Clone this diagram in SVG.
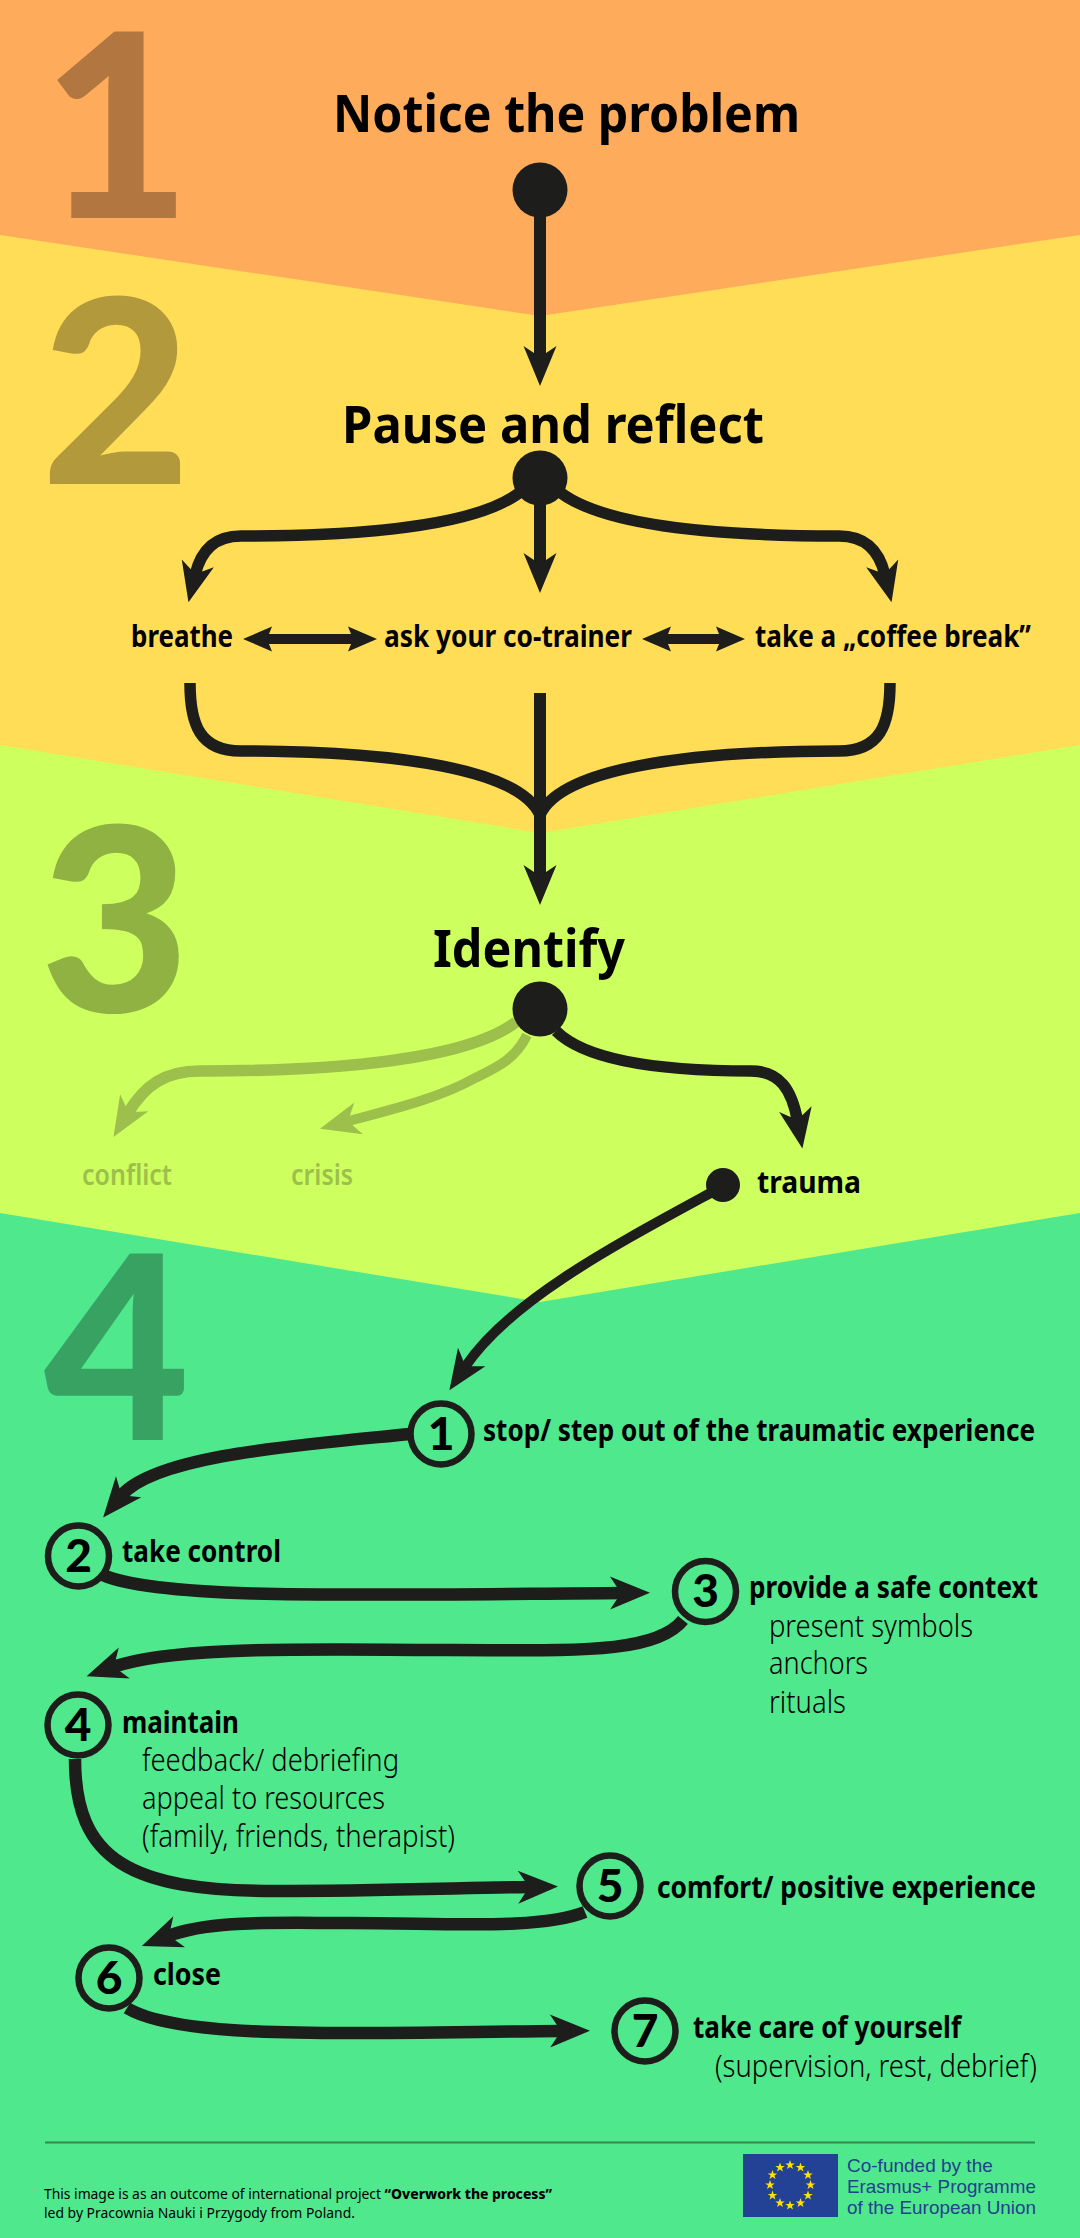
<svg xmlns="http://www.w3.org/2000/svg" xmlns:xlink="http://www.w3.org/1999/xlink" width="1080" height="2238" viewBox="0 0 1080 2238">
<defs>
<style>
text{font-family:"Noto Sans","Open Sans",sans-serif;fill:#000;font-variant-ligatures:none}
.big{font-family:"Lato","Noto Sans",sans-serif;font-weight:900;font-size:257px;fill-opacity:.3}
.h{font-weight:700;font-size:52px}
.m{font-weight:700;font-size:31px}
.g{font-weight:600;font-size:29px;fill:#9dbf4c}
.l{font-weight:300;font-size:32px}
.n{font-family:"Lato","Noto Sans",sans-serif;font-weight:900;font-size:46px;text-anchor:middle}
.f{font-weight:400;font-size:14.500px}
.fb{font-weight:800}
.eu{font-family:"Liberation Sans",Arial,sans-serif;font-size:19px;fill:#25408f}
.c{fill:none;stroke:#1d1d1b;stroke-width:11.500}
.t{stroke-width:12}
.w{stroke-width:12.500}
.gc{fill:none;stroke:#9dbf4c;stroke-width:11.500}
.a{marker-end:url(#ah)}
.ga{marker-end:url(#gh)}
.dbl{stroke-width:10;marker-start:url(#dh);marker-end:url(#dh)}
.d{fill:#1d1d1b}
.o{fill:none;stroke:#1d1d1b;stroke-width:6.500}
</style>
<marker id="ah" markerUnits="userSpaceOnUse" markerWidth="50" markerHeight="50" refX="12" refY="25" orient="auto" overflow="visible"><path d="M40,25 0,8.500 11,25 0,41.500Z" fill="#1d1d1b"/></marker>
<marker id="gh" markerUnits="userSpaceOnUse" markerWidth="50" markerHeight="50" refX="12" refY="25" orient="auto" overflow="visible"><path d="M40,25 0,8.500 11,25 0,41.500Z" fill="#9dbf4c"/></marker>
<marker id="dh" markerUnits="userSpaceOnUse" markerWidth="40" markerHeight="40" refX="20" refY="20" orient="auto-start-reverse" overflow="visible"><path d="M34,20 5,7.500 10,20 5,32.500Z" fill="#1d1d1b"/></marker>
<polygon id="s" points="0,-5 1.200,-1.600 4.800,-1.600 1.900,0.600 3,4 0,2 -3,4 -1.900,0.600 -4.800,-1.600 -1.200,-1.600" fill="#ffe000"/>
</defs>
<g id="bands">
<rect width="1080" height="2238" fill="#50e88d"/>
<path d="M0,0H1080V1213L540,1302 0,1213Z" fill="#cdff5f"/>
<path d="M0,0H1080V745L540,833 0,745Z" fill="#ffdd57"/>
<path d="M0,0H1080V235L540,316 0,235Z" fill="#ffab5c"/>
</g>
<g id="numerals">
<text class="big" x="42" y="218" textLength="149" lengthAdjust="spacingAndGlyphs">1</text>
<text class="big" x="41" y="484" textLength="150" lengthAdjust="spacingAndGlyphs">2</text>
<text class="big" x="40" y="1012" textLength="150" lengthAdjust="spacingAndGlyphs">3</text>
<text class="big" x="44" y="1440" textLength="146" lengthAdjust="spacingAndGlyphs">4</text>
</g>
<g id="connectors">
<path class="c t a" d="M540,190V358"/>
<path class="c t a" d="M540,478V565"/>
<path class="c a" d="M525,488C480,530 340,536 241,536C215,536 201,550 195,575"/>
<path class="c a" d="M555,488C600,530 740,536 839,536C865,536 879,550 885,575"/>
<path class="c dbl" d="M257,639H363"/>
<path class="c dbl" d="M656,639H731"/>
<path class="c" d="M190,683C190,725 200,751 241,751C400,751 520,770 540,815"/>
<path class="c" d="M890,683C890,725 880,751 839,751C680,751 560,770 540,815"/>
<path class="c t a" d="M540,693V877"/>
<path class="gc ga" d="M516,1022C460,1065 300,1071 200,1071C165,1071 145,1085 128,1113"/>
<path class="gc ga" style="stroke-width:10" d="M527,1035C515,1060 495,1068 475,1078C440,1098 390,1110 347,1121.500"/>
<path class="c a" d="M556,1031C590,1065 680,1071 751,1071C780,1071 792,1090 797.500,1121"/>
<path class="c a" style="stroke-width:10" d="M716,1190C615,1245 510,1300 465,1367"/>
<path class="c w a" d="M410,1434C300,1445 155,1455 121,1496"/>
<path class="c w a" d="M103,1575C160,1600 350,1595 622,1593"/>
<path class="c w a" d="M683,1620C655,1655 570,1650 450,1650C320,1650 175,1645 113,1667"/>
<path class="c w a" d="M75,1759C75,1860 130,1891 275,1891C370,1891 460,1888 530,1887"/>
<path class="c w a" d="M585,1912C540,1930 450,1923 350,1923C270,1923 210,1920 168,1936"/>
<path class="c w a" d="M127,2008C180,2040 340,2033 562,2031"/>
</g>
<g id="node-notice"><text class="h" transform="translate(333,132) scale(.85,1)" textLength="549.400" lengthAdjust="spacingAndGlyphs">Notice the problem</text><circle class="d" cx="540" cy="190" r="27.500"/></g>
<g id="node-pause"><text class="h" transform="translate(342,443) scale(.85,1)" textLength="496.500" lengthAdjust="spacingAndGlyphs">Pause and reflect</text><circle class="d" cx="540" cy="478" r="27.500"/></g>
<g id="node-breathe"><text class="m" transform="translate(131,647) scale(.85,1)" textLength="120" lengthAdjust="spacingAndGlyphs">breathe</text></g>
<g id="node-cotrainer"><text class="m" transform="translate(384,647) scale(.85,1)" textLength="291.800" lengthAdjust="spacingAndGlyphs">ask your co-trainer</text></g>
<g id="node-coffee"><text class="m" transform="translate(755,647) scale(.85,1)" textLength="324.700" lengthAdjust="spacingAndGlyphs">take a „coffee break”</text></g>
<g id="node-identify"><text class="h" transform="translate(433,967) scale(.85,1)" textLength="225.900" lengthAdjust="spacingAndGlyphs">Identify</text><circle class="d" cx="540" cy="1009" r="27.500"/></g>
<g id="node-conflict"><text class="g" transform="translate(82,1185) scale(.9,1)" textLength="100" lengthAdjust="spacingAndGlyphs">conflict</text></g>
<g id="node-crisis"><text class="g" transform="translate(291,1185) scale(.9,1)" textLength="68.900" lengthAdjust="spacingAndGlyphs">crisis</text></g>
<g id="node-trauma"><circle class="d" cx="723" cy="1185" r="17"/><text class="m" transform="translate(757,1192.500) scale(.85,1)" textLength="122.400" lengthAdjust="spacingAndGlyphs">trauma</text></g>
<g id="node-step1"><circle class="o" cx="441" cy="1434" r="30.500"/><text class="n" x="441" y="1450">1</text><text class="m" transform="translate(483,1441) scale(.85,1)" textLength="649.400" lengthAdjust="spacingAndGlyphs">stop/ step out of the traumatic experience</text></g>
<g id="node-step2"><circle class="o" cx="78.500" cy="1556" r="30.500"/><text class="n" x="78.500" y="1572">2</text><text class="m" transform="translate(122,1562) scale(.85,1)" textLength="187" lengthAdjust="spacingAndGlyphs">take control</text></g>
<g id="node-step3"><circle class="o" cx="705.500" cy="1591.500" r="30.500"/><text class="n" x="705.500" y="1607">3</text><text class="m" transform="translate(749,1598) scale(.85,1)" textLength="340" lengthAdjust="spacingAndGlyphs">provide a safe context</text><text class="l" transform="translate(769,1637) scale(.85,1)" textLength="240" lengthAdjust="spacingAndGlyphs">present symbols</text><text class="l" transform="translate(769,1674) scale(.85,1)" textLength="116.500" lengthAdjust="spacingAndGlyphs">anchors</text><text class="l" transform="translate(769,1713) scale(.85,1)" textLength="90.600" lengthAdjust="spacingAndGlyphs">rituals</text></g>
<g id="node-step4"><circle class="o" cx="78" cy="1725" r="30.500"/><text class="n" x="78" y="1741">4</text><text class="m" transform="translate(122,1732.500) scale(.85,1)" textLength="137.600" lengthAdjust="spacingAndGlyphs">maintain</text><text class="l" transform="translate(142,1771) scale(.85,1)" textLength="302.400" lengthAdjust="spacingAndGlyphs">feedback/ debriefing</text><text class="l" transform="translate(142,1808.500) scale(.85,1)" textLength="285.900" lengthAdjust="spacingAndGlyphs">appeal to resources</text><text class="l" transform="translate(142,1847) scale(.85,1)" textLength="368.200" lengthAdjust="spacingAndGlyphs">(family, friends, therapist)</text></g>
<g id="node-step5"><circle class="o" cx="610" cy="1886" r="30.500"/><text class="n" x="610" y="1902">5</text><text class="m" transform="translate(657,1898) scale(.85,1)" textLength="445.900" lengthAdjust="spacingAndGlyphs">comfort/ positive experience</text></g>
<g id="node-step6"><circle class="o" cx="109" cy="1978" r="30.500"/><text class="n" x="109" y="1994">6</text><text class="m" transform="translate(153,1985) scale(.85,1)" textLength="80" lengthAdjust="spacingAndGlyphs">close</text></g>
<g id="node-step7"><circle class="o" cx="645" cy="2031" r="30.500"/><text class="n" x="645" y="2047">7</text><text class="m" transform="translate(693,2038) scale(.85,1)" textLength="315.300" lengthAdjust="spacingAndGlyphs">take care of yourself</text><text class="l" transform="translate(715,2077) scale(.85,1)" textLength="378.800" lengthAdjust="spacingAndGlyphs">(supervision, rest, debrief)</text></g>
<g id="footer">
<path d="M45,2142.500H1035" stroke="#2a8a50" stroke-width="2"/>
<text class="f" transform="translate(44,2199) scale(.85,1)" textLength="597.600" lengthAdjust="spacingAndGlyphs">This image is as an outcome of international project <tspan class="fb">“Overwork the process”</tspan></text>
<text class="f" transform="translate(44,2218) scale(.85,1)" textLength="365.900" lengthAdjust="spacingAndGlyphs">led by Pracownia Nauki i Przygody from Poland.</text>
<rect x="743" y="2154" width="95" height="63" fill="#234295"/>
<g id="eu-stars"><use xlink:href="#s" x="790" y="2165"/><use xlink:href="#s" x="800.500" y="2167.500"/><use xlink:href="#s" x="808" y="2175"/><use xlink:href="#s" x="810.500" y="2185"/><use xlink:href="#s" x="808" y="2195.500"/><use xlink:href="#s" x="800.500" y="2203"/><use xlink:href="#s" x="790" y="2205.500"/><use xlink:href="#s" x="780" y="2203"/><use xlink:href="#s" x="772.500" y="2195.500"/><use xlink:href="#s" x="770" y="2185"/><use xlink:href="#s" x="772.500" y="2175"/><use xlink:href="#s" x="780" y="2167.500"/></g>
<text class="eu" x="847" y="2172">Co-funded by the</text>
<text class="eu" x="847" y="2193" textLength="189" lengthAdjust="spacingAndGlyphs">Erasmus+ Programme</text>
<text class="eu" x="847" y="2214" textLength="189" lengthAdjust="spacingAndGlyphs">of the European Union</text>
</g>
</svg>
